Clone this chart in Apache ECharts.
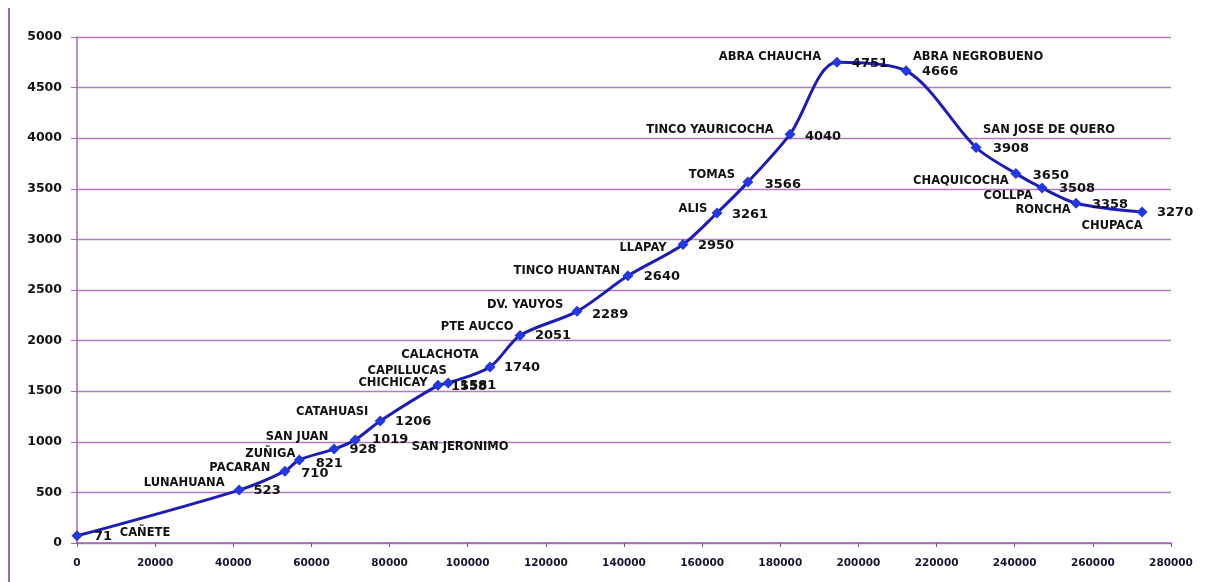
<!DOCTYPE html>
<html>
<head>
<meta charset="utf-8">
<script src="https://cdn.jsdelivr.net/npm/echarts@6/dist/echarts.min.js"></script>
<style>
  html, body { margin: 0; padding: 0; background: #ffffff; }
  #chart { width: 1210px; height: 582px; }
</style>
</head>
<body>
<div id="chart"></div>
<script>
// Route profile: distance along the road (m) and altitude (m.s.n.m.)
const places = ['CAÑETE', 'LUNAHUANA', 'PACARAN', 'ZUÑIGA', 'SAN JUAN', 'SAN JERONIMO',
  'CATAHUASI', 'CHICHICAY', 'CAPILLUCAS', 'CALACHOTA', 'PTE AUCCO', 'DV. YAUYOS',
  'TINCO HUANTAN', 'LLAPAY', 'ALIS', 'TOMAS', 'TINCO YAURICOCHA', 'ABRA CHAUCHA',
  'ABRA NEGROBUENO', 'SAN JOSE DE QUERO', 'CHAQUICOCHA', 'COLLPA', 'RONCHA', 'CHUPACA'];
const distances = [0, 41500, 53200, 56900, 65800, 71200,
  77600, 92400, 95000, 105700, 113400, 128000,
  141000, 155100, 163800, 171700, 182500, 194500,
  212200, 230100, 240300, 247000, 255700, 272600];
const altitudes = [71, 523, 710, 821, 928, 1019,
  1206, 1558, 1581, 1740, 2051, 2289,
  2640, 2950, 3261, 3566, 4040, 4751,
  4666, 3908, 3650, 3508, 3358, 3270];
const yTicks = [0, 500, 1000, 1500, 2000, 2500, 3000, 3500, 4000, 4500, 5000];
const xTicks = [0, 20000, 40000, 60000, 80000, 100000, 120000, 140000,
  160000, 180000, 200000, 220000, 240000, 260000, 280000];

// Label placement around each marker: [dx, dy] of the name and of the altitude
const nameOffsets = {
  'CAÑETE': [68, -3], 'LUNAHUANA': [-55, -7], 'PACARAN': [-45, -3], 'ZUÑIGA': [-29, -6],
  'SAN JUAN': [-37, -12], 'SAN JERONIMO': [105, 7], 'CATAHUASI': [-48, -9],
  'CHICHICAY': [-45, -2], 'CAPILLUCAS': [-41, -12], 'CALACHOTA': [-50, -12],
  'PTE AUCCO': [-43, -8], 'DV. YAUYOS': [-52, -6], 'TINCO HUANTAN': [-61, -5],
  'LLAPAY': [-40, 4], 'ALIS': [-24, -4], 'TOMAS': [-36, -7], 'TINCO YAURICOCHA': [-80, -4],
  'ABRA CHAUCHA': [-67, -5], 'ABRA NEGROBUENO': [72, -14], 'SAN JOSE DE QUERO': [73, -17],
  'CHAQUICOCHA': [-55, 7], 'COLLPA': [-34, 8], 'RONCHA': [-33, 7], 'CHUPACA': [-30, 14]
};
const valueOffsets = {
  'CAÑETE': [26, 1], 'LUNAHUANA': [28, 1], 'PACARAN': [30, 2], 'ZUÑIGA': [30, 4],
  'SAN JUAN': [29, 1], 'SAN JERONIMO': [35, 0], 'CATAHUASI': [33, 1],
  'CHICHICAY': [31, 1], 'CAPILLUCAS': [30, 3], 'CALACHOTA': [32, 1],
  'PTE AUCCO': [33, 0], 'DV. YAUYOS': [33, 3], 'TINCO HUANTAN': [34, 1],
  'LLAPAY': [33, 1], 'ALIS': [33, 2], 'TOMAS': [35, 3], 'TINCO YAURICOCHA': [33, 2],
  'ABRA CHAUCHA': [33, 1], 'ABRA NEGROBUENO': [34, 1], 'SAN JOSE DE QUERO': [35, 1],
  'CHAQUICOCHA': [35, 2], 'COLLPA': [35, 1], 'RONCHA': [34, 1], 'CHUPACA': [33, 1]
};

const FONT = '"DejaVu Sans", Verdana, sans-serif';
const GRID_COLOR = '#a464b4';

const lineData = places.map((p, i) => ({
  name: p,
  value: [distances[i], altitudes[i]],
  label: { offset: valueOffsets[p] }
}));
const nameData = places.map((p, i) => ({
  name: p,
  value: [distances[i], altitudes[i]],
  label: { offset: nameOffsets[p] }
}));

const chart = echarts.init(document.getElementById('chart'), null, { renderer: 'canvas' });
chart.setOption({
  animation: false,
  backgroundColor: '#ffffff',
  grid: { left: 77, right: 39, top: 37, bottom: 39, containLabel: false },
  xAxis: {
    type: 'value',
    min: xTicks[0],
    max: xTicks[xTicks.length - 1],
    interval: xTicks[1] - xTicks[0],
    axisLine: { show: true, lineStyle: { color: GRID_COLOR, width: 1.5 } },
    axisTick: { show: true, length: 4, lineStyle: { color: '#7a4a8a', width: 1 } },
    splitLine: { show: false },
    axisLabel: {
      margin: 15, color: '#1a1030', fontFamily: FONT, fontWeight: 'bold', fontSize: 10.5,
      formatter: v => String(v)
    }
  },
  yAxis: {
    type: 'value',
    min: yTicks[0],
    max: yTicks[yTicks.length - 1],
    interval: yTicks[1] - yTicks[0],
    axisLine: { show: true, lineStyle: { color: GRID_COLOR, width: 1.5 } },
    axisTick: { show: true, length: 6, lineStyle: { color: GRID_COLOR, width: 1 } },
    splitLine: { show: true, lineStyle: { color: GRID_COLOR, width: 1.3, opacity: 0.85 } },
    axisLabel: {
      margin: 15, color: '#111111', fontFamily: FONT, fontWeight: 'bold', fontSize: 12.5,
      formatter: v => String(v)
    }
  },
  graphic: [{
    type: 'line',
    shape: { x1: 9, y1: 8, x2: 9, y2: 582 },
    style: { stroke: '#9a6aa8', lineWidth: 2 }
  }],
  series: [
    {
      type: 'line',
      data: lineData,
      smooth: 0.3,
      symbol: 'diamond',
      symbolSize: 11,
      lineStyle: { color: '#1d1db4', width: 3 },
      itemStyle: { color: '#2338e0' },
      label: {
        show: true,
        position: 'inside',
        align: 'center',
        verticalAlign: 'middle',
        color: '#111111',
        opacity: 1,
        fontFamily: FONT,
        fontWeight: 'bold',
        fontSize: 13,
        formatter: p => String(p.value[1])
      },
      z: 3
    },
    {
      type: 'scatter',
      data: nameData,
      symbolSize: 1,
      itemStyle: { color: 'rgba(0,0,0,0)', opacity: 1 },
      silent: true,
      label: {
        show: true,
        position: 'inside',
        align: 'center',
        verticalAlign: 'middle',
        color: '#111111',
        opacity: 1,
        fontFamily: FONT,
        fontWeight: 'bold',
        fontSize: 11.5,
        formatter: p => p.name
      },
      z: 4
    }
  ]
});
</script>
</body>
</html>
